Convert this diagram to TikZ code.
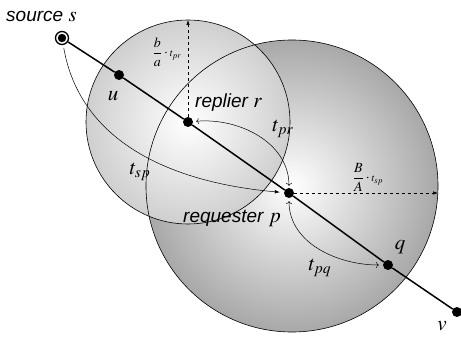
\documentclass[tikz,border=0pt]{standalone}
\usepackage{amsmath}
\usepackage{mathptmx}
\usepackage{fontspec}
\setsansfont{Liberation Sans}
\usepackage{tikz}
\usetikzlibrary{positioning,calc,arrows.meta}
\definecolor{discgray}{HTML}{A8A8A8}
\definecolor{disclight}{HTML}{CFCFCF}

\begin{document}
\begin{tikzpicture}[
  x=1pt, y=-1pt,
  dot/.style={circle, fill=black, inner sep=0pt, minimum size=10pt},
  srcdot/.style={circle, draw=black, line width=1.3pt, fill=white, inner sep=0pt, minimum size=13pt},
  rolelbl/.style={font=\sffamily\itshape\fontsize{19}{22}\selectfont, inner sep=0pt},
  varlbl/.style={font=\fontsize{21}{24}\selectfont, inner sep=0pt},
  fraclbl/.style={font=\fontsize{14}{16}\selectfont, inner sep=0pt},
  hop/.style={-{Latex[length=5pt,width=3.5pt]}, line width=0.5pt},
  reach/.style={-{Latex[length=5pt,width=3.5pt]}, dashed, line width=0.6pt},
]
\useasboundingbox (0,0) rectangle (461,337);
% discs
\shade[inner color=white, outer color=discgray] (292,186) circle (146);
\shade[inner color=white, outer color=disclight] (188,122) circle (102);
\draw[line width=0.6pt] (292,186) circle (146);
\draw[line width=0.6pt] (188,122) circle (102);

% path from source to v
\node[srcdot] (s) at (62,38) {};
\fill (s.center) circle (4.2);
\node[dot] (u) at (119,75) {};
\node[dot] (r) at (188,122) {};
\node[dot] (p) at (289,193) {};
\node[dot] (q) at (388,265) {};
\node[dot] (v) at (457,312) {};
\draw[line width=1.5pt] (s) -- (u) -- (r) -- (p) -- (q) -- (v);

% ranges
\coordinate (rtop) at (188,20);
\coordinate (pedge) at (438,193);
\draw[reach] (r) -- (rtop);
\draw[reach] (p) -- (pedge);

% hops
\draw[hop, <->, shorten <=3pt, shorten >=2pt] (r) to[out=5, in=90] (p);
\draw[hop, shorten <=3pt, shorten >=4pt] (s) to[out=-80, in=175] (p);
\draw[hop, <->, shorten <=3pt, shorten >=4pt] (p) to[out=-90, in=180] (q);

% labels
\node[rolelbl, anchor=base west] (srclbl) at (6,22) {source {\fontsize{21}{24}\selectfont$s$}};
\node[rolelbl, anchor=base west] (replbl) at (195,107) {replier {\fontsize{21}{24}\selectfont$r$}};
\node[rolelbl, anchor=base west] (reqlbl) at (183,222) {requester {\fontsize{21}{24}\selectfont$p$}};
\node[varlbl] (ulbl) at (113,96) {$u$};
\node[varlbl] (qlbl) at (400,247) {$q$};
\node[varlbl] (vlbl) at (442,326) {$v$};
\node[varlbl] (tprlbl) at (283,129) {$t_{pr}$};
\node[varlbl] (tsplbl) at (140,172) {$t_{sp}$};
\node[varlbl] (tpqlbl) at (320,268) {$t_{pq}$};
\node[fraclbl] (bafrac) at (167,52) {$\dfrac{b}{a}\cdot{\scriptstyle t_{pr}}$};
\node[fraclbl] (BAfrac) at (368,177) {$\dfrac{B}{A}\cdot{\scriptstyle t_{sp}}$};
\end{tikzpicture}
\end{document}
